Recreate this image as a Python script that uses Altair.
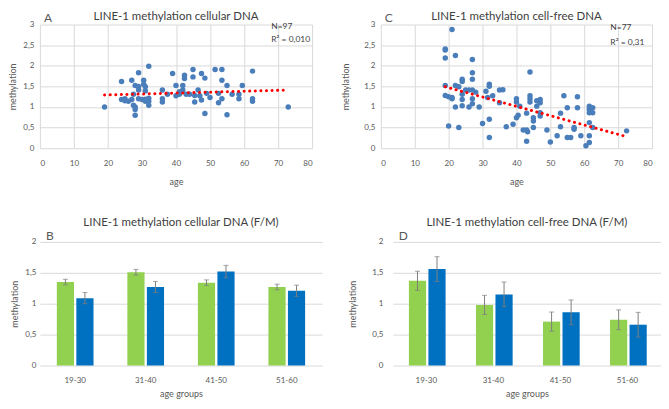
import altair as alt
import pandas as pd

FONT = "Lato"
GRID = "#d9d9d9"
TXT = "#595959"

# ---- Panel A: cellular DNA scatter ----
age_a = [19, 24, 24, 25, 25, 26, 27, 27, 27.5, 27.5, 28, 28, 28, 28, 29, 29, 29, 29,
         30, 30.5, 30.5, 31, 31, 31, 31, 32, 32, 32, 32, 36, 36, 36, 37.5, 39, 40, 40,
         41, 41, 42, 42.5, 42.5, 42, 43, 44, 45, 45, 45.5, 45.5, 46.5, 47, 47.5, 47.5,
         48.5, 48.5, 49, 50, 51.5, 52.5, 52.5, 53.5, 53.5, 53.5, 55, 55, 56.5, 58.5,
         58.5, 59.5, 62.5, 62.5, 62.5, 73]
meth_a = [1.00, 1.62, 1.18, 1.20, 1.15, 1.14, 1.18, 1.65, 1.31, 1.04, 1.00, 0.94, 0.80,
          1.52, 1.83, 1.50, 1.41, 1.20, 1.18, 1.65, 1.55, 1.49, 1.39, 1.19, 1.14, 1.99,
          1.21, 1.04, 1.14, 1.41, 1.20, 1.12, 1.31, 1.81, 1.52, 1.27, 1.31, 1.37, 1.41,
          1.77, 1.69, 1.52, 1.31, 1.31, 1.91, 1.73, 1.12, 1.28, 1.41, 1.27, 1.81, 1.17,
          1.70, 0.84, 1.33, 1.23, 1.91, 1.10, 1.33, 1.91, 1.65, 1.20, 1.52, 0.81, 1.31,
          1.31, 1.20, 1.52, 1.87, 1.20, 1.14, 1.00]
trend_a_age = [19, 73]
trend_a_meth = [1.29, 1.41]

# ---- Panel C: cell-free DNA scatter ----
age_c = [21, 19, 19, 19, 22, 27, 27, 27, 19, 19, 20, 21, 21, 22, 23, 24, 24, 24, 24, 24,
         25, 26, 22, 20, 23, 26, 27, 27, 27, 28, 29, 30, 31, 31.5, 32, 32, 32, 32, 33,
         35, 36, 35, 37, 39, 40, 40, 40, 40.5, 41, 42, 43, 43, 43.3, 43, 44, 44, 44, 44,
         45, 45, 45, 46, 46, 47, 47, 47, 47, 49, 50, 52, 53, 53, 54, 55, 55, 56, 57, 57,
         58, 58, 59, 60.5, 61.5, 61.5, 61.5, 61.5, 61.5, 61.5, 62.5, 62.5, 62.5, 72.5]
meth_c = [2.88, 2.41, 2.38, 2.19, 2.25, 2.15, 1.83, 1.67, 1.52, 1.28, 1.25, 1.20, 1.23,
          1.52, 1.49, 1.67, 1.62, 1.31, 1.18, 1.03, 1.41, 1.41, 1.00, 0.54, 0.50, 1.00,
          1.41, 1.20, 1.08, 1.36, 1.00, 0.60, 1.38, 1.23, 1.55, 1.50, 0.70, 0.26, 1.27,
          1.41, 1.42, 1.10, 0.52, 0.58, 1.20, 1.12, 0.74, 0.80, 1.02, 0.44, 0.44, 0.85,
          0.40, 0.17, 1.85, 1.27, 1.20, 1.12, 0.74, 0.66, 0.50, 1.15, 1.02, 1.18, 1.10,
          0.86, 0.78, 0.44, 0.15, 0.30, 0.85, 0.52, 1.27, 0.98, 0.26, 0.26, 0.46, 0.50,
          1.25, 0.98, 0.30, 0.06, 1.02, 0.94, 0.86, 0.62, 0.30, 0.14, 0.98, 0.86, 0.50,
          0.42]
trend_c_age = [19, 72]
trend_c_meth = [1.49, 0.29]

# ---- Panels B and D: bars by age group, F/M ----
groups = ["19-30", "31-40", "41-50", "51-60"]
sexes = ["F", "M"]
b_f = [1.35, 1.51, 1.34, 1.27]
b_f_err = [0.045, 0.045, 0.045, 0.045]
b_m = [1.09, 1.27, 1.52, 1.21]
b_m_err = [0.09, 0.09, 0.10, 0.09]
d_f = [1.37, 0.98, 0.71, 0.74]
d_f_err = [0.155, 0.155, 0.155, 0.16]
d_m = [1.56, 1.15, 0.86, 0.66]
d_m_err = [0.20, 0.20, 0.20, 0.20]

POINT = "#4a7ebb"
GREEN = "#92d050"
BLUE = "#0070c0"
LABEL_EXPR = "replace(format(datum.value, '~g'), '.', ',')"


def title_layer(title, w, y):
    return alt.Chart(pd.DataFrame({"t": [title]})).mark_text(
        align="center", baseline="alphabetic", fontSize=11.5, color="#404040", font=FONT
    ).encode(x=alt.value(w / 2), y=alt.value(y), text="t:N")


def scatter_panel(ages, meths, t_age, t_meth, title, letter, n_txt, r_txt, w,
                  ytitle_pad, n_x, n_y, r_y):
    pts = pd.DataFrame({"age": ages, "meth": meths})
    tr = pd.DataFrame({"age": t_age, "meth": t_meth})
    xs = alt.Scale(domain=[0, 80], nice=False)
    ys = alt.Scale(domain=[0, 3], nice=False)
    xax = alt.Axis(values=list(range(0, 81, 10)), grid=True, gridColor=GRID,
                   domain=False, ticks=False, labelPadding=11, titlePadding=10,
                   labelFontSize=8, titleFontSize=9, labelOverlap=False)
    yax = alt.Axis(values=[0, 0.5, 1, 1.5, 2, 2.5, 3], grid=True, gridColor=GRID,
                   domain=False, ticks=False, labelPadding=6,
                   titlePadding=ytitle_pad, labelFontSize=8, titleFontSize=9,
                   labelOverlap=False, labelExpr=LABEL_EXPR)
    X = alt.X("age:Q", scale=xs, axis=xax, title="age")
    Y = alt.Y("meth:Q", scale=ys, axis=yax, title="methylation")
    base = alt.Chart(pts).mark_circle(size=30, opacity=1, color=POINT).encode(x=X, y=Y)
    trend = alt.Chart(tr).mark_line(color="#ff0000", strokeWidth=3,
                                    strokeDash=[0.1, 5.5], strokeCap="round").encode(x=X, y=Y)
    lab = pd.DataFrame({"t": [letter]})
    let = alt.Chart(lab).mark_text(align="left", baseline="alphabetic", fontSize=12,
                                   color=TXT, font=FONT).encode(
        x=alt.value(4), y=alt.value(-3), text="t:N")
    ann = pd.DataFrame({"t": [n_txt, r_txt], "age": [n_x, n_x], "meth": [n_y, r_y]})
    anno = alt.Chart(ann).mark_text(align="left", baseline="middle", fontSize=8.5,
                                    color="#404040", font=FONT).encode(
        x=X, y=Y, text="t:N")
    return alt.layer(base, trend, let, anno, title_layer(title, w, -5)).properties(
        width=w, height=124)


def bar_panel(f, fe, m, me, title, letter, w, ylabel_pad, ytitle_pad):
    rows = []
    for i, g in enumerate(groups):
        rows.append({"group": g, "sex": "F", "v": f[i], "lo": f[i] - fe[i], "hi": f[i] + fe[i]})
        rows.append({"group": g, "sex": "M", "v": m[i], "lo": m[i] - me[i], "hi": m[i] + me[i]})
    df = pd.DataFrame(rows)
    xs = alt.Scale(paddingInner=0.48, paddingOuter=0.24)
    xax = alt.Axis(grid=False, domain=False, ticks=False, labelAngle=0,
                   labelPadding=11, titlePadding=5, labelFontSize=8, titleFontSize=9)
    ys = alt.Scale(domain=[0, 2], nice=False)
    yax = alt.Axis(values=[0, 0.5, 1, 1.5, 2], grid=True, gridColor=GRID, domain=False,
                   ticks=False, labelPadding=ylabel_pad, titlePadding=ytitle_pad,
                   labelFontSize=8, titleFontSize=9, labelOverlap=False,
                   labelExpr=LABEL_EXPR)
    base = alt.Chart(df).encode(
        x=alt.X("group:N", sort=groups, scale=xs, axis=xax, title="age groups"),
        xOffset=alt.XOffset("sex:N", sort=sexes, scale=alt.Scale(paddingInner=0.12)),
    )
    bars = base.mark_bar().encode(
        y=alt.Y("v:Q", scale=ys, axis=yax, title="methylation"),
        color=alt.Color("sex:N", scale=alt.Scale(domain=sexes, range=[GREEN, BLUE]),
                        legend=None),
    )
    err = base.mark_rule(color="#7f7f7f", strokeWidth=1).encode(
        y=alt.Y("lo:Q", scale=ys, axis=yax, title="methylation"), y2="hi:Q")
    cap_hi = base.mark_tick(color="#7f7f7f", thickness=1, size=5).encode(
        y=alt.Y("hi:Q", scale=ys, axis=yax, title="methylation"))
    cap_lo = base.mark_tick(color="#7f7f7f", thickness=1, size=5).encode(
        y=alt.Y("lo:Q", scale=ys, axis=yax, title="methylation"))
    lab = pd.DataFrame({"t": [letter]})
    let = alt.Chart(lab).mark_text(align="left", baseline="alphabetic", fontSize=12,
                                   color=TXT, font=FONT).encode(
        x=alt.value(6), y=alt.value(-2), text="t:N")
    return alt.layer(bars, err, cap_hi, cap_lo, let, title_layer(title, w, -16)).properties(
        width=w, height=124)


pA = scatter_panel(age_a, meth_a, trend_a_age, trend_a_meth,
                   "LINE-1 methylation cellular DNA", "A", "N=97", "R² = 0,010",
                   273, 5, 68, 2.97, 2.64)
pC = scatter_panel(age_c, meth_c, trend_c_age, trend_c_meth,
                   "LINE-1 methylation cell-free DNA", "C", "N=77", "R² = 0,31",
                   272, 13, 67.7, 2.93, 2.57)
pB = bar_panel(b_f, b_f_err, b_m, b_m_err, "LINE-1 methylation cellular DNA (F/M)",
               "B", 283, 4, 5)
pD = bar_panel(d_f, d_f_err, d_m, d_m_err, "LINE-1 methylation cell-free DNA (F/M)",
               "D", 269, 10, 14)

row1 = alt.hconcat(pA, pC, spacing=29)
row2 = alt.hconcat(pB, pD, spacing=26)
chart = alt.vconcat(row1, row2, spacing=31).properties(
    padding={"left": 0, "top": 2, "right": 0, "bottom": 0}
).configure(font=FONT).configure_view(stroke=None).configure_axis(
    labelColor=TXT, titleColor=TXT, titleFontWeight="normal", labelFont=FONT,
    titleFont=FONT
)

chart.save("out.html", embed_options={"renderer": "svg", "actions": False})
